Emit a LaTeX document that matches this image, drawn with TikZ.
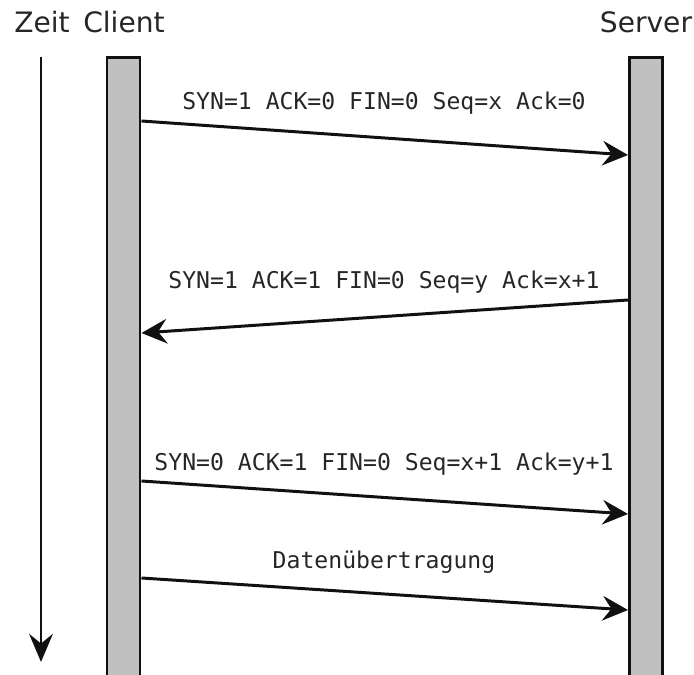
\documentclass[tikz,border=0pt]{standalone}
\usepackage{fontspec}
\setmainfont{DejaVu Sans}
\setmonofont{DejaVu Sans Mono}
\usetikzlibrary{arrows.meta, positioning, calc}
\definecolor{barfill}{HTML}{C0C0C0}
\definecolor{linedark}{HTML}{111111}
\tikzset{
  % Lifeline bars
  lifeline/.style={
    rectangle, draw=linedark, fill=barfill, line width=1.7pt,
    minimum width=0.66cm, minimum height=12.8cm, anchor=north,
    inner sep=0pt,
  },
  % Party names on top
  party/.style={font=\fontsize{16}{18}\selectfont, text=black!85, anchor=base},
  % Messages between the bars
  msg/.style={-{Stealth[length=14.5pt, width=14pt, inset=5pt]}, line width=1.7pt, draw=linedark},
  msglabel/.style={font=\ttfamily\fontsize{13.15}{15}\selectfont, text=black!85, anchor=base},
  % Time axis
  timearrow/.style={-{Stealth[length=16pt, width=13.5pt, inset=5.5pt]}, line width=1.7pt, draw=linedark},
}
\begin{document}
\begin{tikzpicture}[x=0.02cm, y=-0.02cm]

  \useasboundingbox (0,0) rectangle (694,675);

  % Header labels
  \node[party] (zeit) at (42,33) {Zeit};
  \node[party] (client) at (124,33) {Client};
  \node[party] (server) at (646,33) {Server};

  % Lifelines
  \node[lifeline] (cbar) at (123.5,56) {};
  \node[lifeline] (sbar) at (646,56) {};

  % Time axis
  \coordinate (t0) at (41,57);
  \coordinate (t1) at (41,662);
  \draw[timearrow] (t0) -- (t1);

  % Message end points on the bar edges
  \coordinate (c1) at (cbar.east |- 0,121);
  \coordinate (s1) at (sbar.west |- 0,155);
  \coordinate (s2) at (sbar.west |- 0,300);
  \coordinate (c2) at (cbar.east |- 0,333);
  \coordinate (c3) at (cbar.east |- 0,481);
  \coordinate (s3) at (sbar.west |- 0,514);
  \coordinate (c4) at (cbar.east |- 0,578);
  \coordinate (s4) at (sbar.west |- 0,610);

  % Handshake
  \draw[msg] (c1) -- (s1);
  \node[msglabel] (m1) at (384,110) {SYN=1 ACK=0 FIN=0 Seq=x Ack=0};

  \draw[msg] (s2) -- (c2);
  \node[msglabel] (m2) at (384,289) {SYN=1 ACK=1 FIN=0 Seq=y Ack=x+1};

  \draw[msg] (c3) -- (s3);
  \node[msglabel] (m3) at (384,471) {SYN=0 ACK=1 FIN=0 Seq=x+1 Ack=y+1};

  % Payload
  \draw[msg] (c4) -- (s4);
  \node[msglabel] (m4) at (384,569) {Datenübertragung};

\end{tikzpicture}
\end{document}
